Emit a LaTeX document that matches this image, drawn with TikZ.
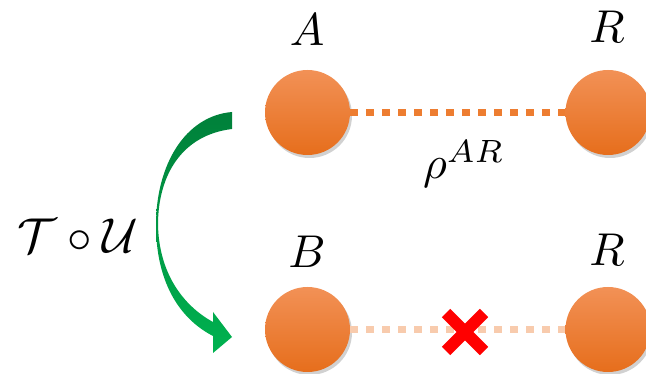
\documentclass[tikz,border=0pt]{standalone}
\usepackage{graphicx}
\usetikzlibrary{shadows,calc}
\definecolor{orgA}{RGB}{237,125,49}
\definecolor{orgTop}{RGB}{242,145,86}
\definecolor{orgBot}{RGB}{230,110,28}
\definecolor{peach}{RGB}{248,203,173}
\definecolor{grnTop}{RGB}{0,128,58}
\definecolor{grnBot}{RGB}{0,178,80}
\newcommand{\bigtxt}[1]{\scalebox{4.6}{#1}}
\tikzset{
  ball/.style={circle, minimum size=85pt, inner sep=0pt, top color=orgTop, bottom color=orgBot,
    drop shadow={shadow xshift=2pt, shadow yshift=-3pt, opacity=0.3, fill=black!60}},
  lbl/.style={inner sep=0pt},
  linkA/.style={line width=7pt, orgA, dash pattern=on 8pt off 8pt},
  linkB/.style={line width=7pt, peach, dash pattern=on 8pt off 8pt},
  cross/.style={line width=12pt, red, line cap=butt}
}
\begin{document}
\begin{tikzpicture}[x=1pt,y=-1pt]
\useasboundingbox (0,0) rectangle (646,374);
\clip (0,0) rectangle (646,374);
% circles
\node[ball] (A) at (307.5,112.5) {};
\node[ball] (R1) at (608,112.5) {};
\node[ball] (B) at (307.5,329.5) {};
\node[ball] (R2) at (608,329.5) {};
% links
\draw[linkA] (A.east) -- (R1.west);
\draw[linkB] (B.east) -- (R2.west);
% labels
\node[lbl] (lA) at (307,30) {\bigtxt{$A$}};
\node[lbl] (lR1) at (607,27) {\bigtxt{$R$}};
\node[lbl] (lB) at (307,252) {\bigtxt{$B$}};
\node[lbl] (lR2) at (607,250) {\bigtxt{$R$}};
\node[lbl] (rho) at (464,164) {\bigtxt{$\rho^{AR}$}};
\node[lbl] (TU) at (78,236) {\scalebox{4.9}{$\mathcal{T}\circ\mathcal{U}$}};
% red cross
\coordinate (X) at (465,332);
\draw[cross] ($(X)+(-19,-19)$) -- ($(X)+(19,19)$);
\draw[cross] ($(X)+(19,-19)$) -- ($(X)+(-19,19)$);
% green curved arrow
\shade[top color=grnTop, bottom color=grnBot]
  (232,112) .. controls (185,116) and (156,165) .. (156,225)
  .. controls (156,280) and (178,318) .. (213,336)
  -- (213,353) -- (232,337) -- (213,312) -- (213,322)
  .. controls (182,305) and (159,272) .. (158,225)
  .. controls (158,175) and (182,135) .. (232,129) -- cycle;
\end{tikzpicture}
\end{document}
